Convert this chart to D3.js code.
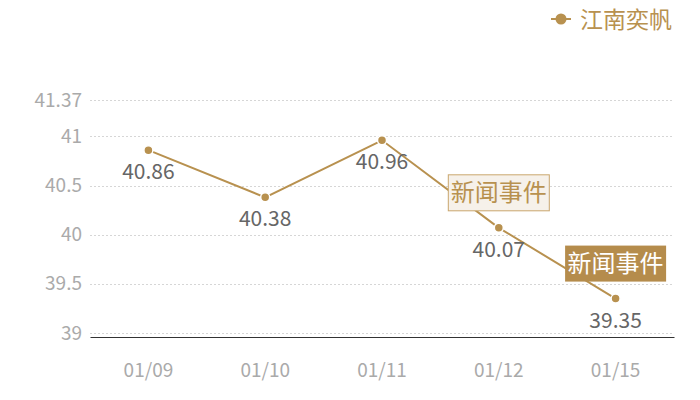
<!DOCTYPE html>
<html>
<head>
<meta charset="utf-8">
<script src="https://cdn.jsdelivr.net/npm/d3@7"></script>
<style>
  body { margin: 0; background: #fff; }
  svg { display: block; font-family: "Microsoft YaHei", "Noto Sans CJK SC", sans-serif; }
</style>
</head>
<body>
<div id="chart"></div>
<script>
const dates = ['01/09', '01/10', '01/11', '01/12', '01/15'];
const prices = [40.86, 40.38, 40.96, 40.07, 39.35];
const yTicks = [39, 39.5, 40, 40.5, 41, 41.37];
const seriesName = '江南奕帆';
const eventDates = ['01/12', '01/15'];
const eventLabels = ['新闻事件', '新闻事件'];

const width = 700;
const height = 400;
const gold = '#b8914f';
const margin = { top: 100, right: 26, bottom: 67, left: 90 };

const svg = d3.select('#chart').append('svg')
  .attr('width', width)
  .attr('height', height);

const x = d3.scaleBand()
  .domain(dates)
  .range([margin.left, width - margin.right]);

const y = d3.scaleLinear()
  .domain([39, 41.37])
  .range([height - margin.bottom, margin.top]);

// grid
svg.append('g')
  .selectAll('line')
  .data(yTicks)
  .join('line')
  .attr('x1', margin.left)
  .attr('x2', width - margin.right)
  .attr('y1', d => Math.round(y(d)) + 0.5)
  .attr('y2', d => Math.round(y(d)) + 0.5)
  .attr('stroke', '#d6d6d6')
  .attr('stroke-dasharray', '2,2');

// y axis labels
const yAxis = svg.append('g')
  .attr('transform', `translate(${margin.left},0)`)
  .call(d3.axisLeft(y).tickValues(yTicks).tickFormat(d => String(d)).tickSize(0).tickPadding(8));
yAxis.select('.domain').remove();
yAxis.selectAll('text')
  .attr('fill', '#aaaaaa')
  .style('font-size', '19px')
  .style('font-family', '"Microsoft YaHei", "Noto Sans CJK SC", sans-serif');

// x axis
const xAxis = svg.append('g')
  .attr('transform', `translate(0,${y(39) + 4})`)
  .call(d3.axisBottom(x).tickSize(0).tickPadding(27));
xAxis.select('.domain').attr('stroke', '#333').attr('stroke-width', 1.2);
xAxis.selectAll('text')
  .attr('fill', '#aaaaaa')
  .style('font-size', '19px')
  .style('font-family', '"Microsoft YaHei", "Noto Sans CJK SC", sans-serif');

const cx = d => x(d) + x.bandwidth() / 2;

// line
const line = d3.line()
  .x((d, i) => cx(dates[i]))
  .y(d => y(d));

svg.append('path')
  .datum(prices)
  .attr('fill', 'none')
  .attr('stroke', gold)
  .attr('stroke-width', 2)
  .attr('d', line);

svg.append('g')
  .selectAll('circle')
  .data(prices)
  .join('circle')
  .attr('cx', (d, i) => cx(dates[i]))
  .attr('cy', d => y(d))
  .attr('r', 4.5)
  .attr('fill', gold)
  .attr('stroke', '#fff')
  .attr('stroke-width', 1.5);

svg.append('g')
  .selectAll('text')
  .data(prices)
  .join('text')
  .attr('x', (d, i) => cx(dates[i]))
  .attr('y', d => y(d) + 29)
  .attr('text-anchor', 'middle')
  .attr('fill', '#666')
  .style('font-size', '21px')
  .text(d => d.toFixed(2));

// event markers
eventDates.forEach((dt, i) => {
  const px = cx(dt);
  const py = y(prices[dates.indexOf(dt)]) - 35;
  const g = svg.append('g');
  g.append('text')
    .attr('x', px)
    .attr('y', py + 8.5)
    .attr('text-anchor', 'middle')
    .style('font-size', '24px')
    .attr('fill', i === 0 ? gold : '#fff')
    .text(eventLabels[i]);
  const bw = 101, bh = 36;
  g.insert('rect', 'text')
    .attr('x', px - bw / 2)
    .attr('y', py - bh / 2)
    .attr('width', bw)
    .attr('height', bh)
    .attr('fill', i === 0 ? '#f6f1ea' : '#b58c4c')
    .attr('stroke', i === 0 ? '#c9a66d' : 'none');
});

// legend
const legend = svg.append('g').attr('transform', 'translate(551,19)');
legend.append('line')
  .attr('x1', 0).attr('x2', 20)
  .attr('stroke', gold).attr('stroke-width', 2);
legend.append('circle')
  .attr('cx', 10).attr('r', 5.5)
  .attr('fill', gold);
legend.append('text')
  .attr('x', 29)
  .attr('y', 9)
  .attr('fill', gold)
  .style('font-size', '23px')
  .text(seriesName);
</script>
</body>
</html>
